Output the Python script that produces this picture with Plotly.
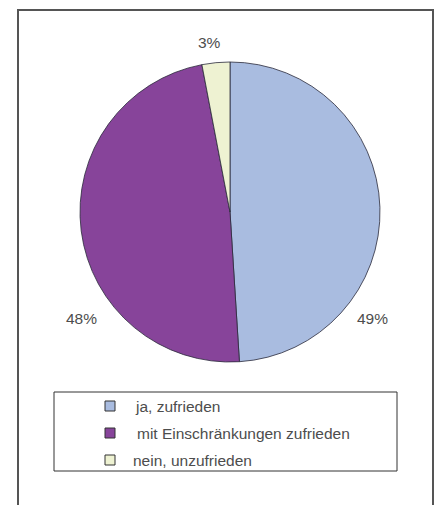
import plotly.graph_objects as go

# Zufriedenheit – Anteile in Prozent
categories = ["ja, zufrieden", "mit Einschränkungen zufrieden", "nein, unzufrieden"]
values = [49, 48, 3]
colors = ["#A9BCE0", "#87449A", "#EEF2D2"]

W, H = 439, 505
FONT = "Liberation Sans, Arial, sans-serif"
TEXT_COLOR = "#4d4d4d"


def px(x):
    return x / W


def py(y):
    return 1 - y / H


fig = go.Figure(
    go.Pie(
        labels=categories,
        values=values,
        marker=dict(colors=colors, line=dict(color="#2a2a3a", width=0.8)),
        sort=False,
        direction="clockwise",
        rotation=0,
        textinfo="none",
        hoverinfo="label+percent",
        showlegend=False,
        domain=dict(x=[px(80), px(380)], y=[py(362), py(62)]),
    )
)

total = sum(values)
pct = [f"{round(v / total * 100)}%" for v in values]

# percentage labels placed around the pie
label_pos = [(372, 318), (81, 318), (209, 43)]
annotations = []
for text, (lx, ly) in zip(pct, label_pos):
    annotations.append(dict(
        x=px(lx), y=py(ly), xref="paper", yref="paper",
        text=text, showarrow=False,
        font=dict(family=FONT, size=15.5, color=TEXT_COLOR),
        xanchor="center", yanchor="middle",
    ))

shapes = [
    # outer frame
    dict(type="rect", xref="paper", yref="paper",
         x0=px(18), x1=px(433), y0=py(520), y1=py(10),
         line=dict(color="#555555", width=2), fillcolor="rgba(0,0,0,0)"),
    # legend box
    dict(type="rect", xref="paper", yref="paper",
         x0=px(54), x1=px(397), y0=py(471), y1=py(392),
         line=dict(color="#333333", width=1), fillcolor="rgba(0,0,0,0)"),
]

# legend entries
row_y = [406, 433, 460]
text_x = [133, 135, 131]
for cat, col, ry, tx in zip(categories, colors, row_y, text_x):
    shapes.append(dict(
        type="rect", xref="paper", yref="paper",
        x0=px(105), x1=px(115), y0=py(ry + 5), y1=py(ry - 5),
        line=dict(color="#333333", width=1), fillcolor=col,
    ))
    annotations.append(dict(
        x=px(tx), y=py(ry), xref="paper", yref="paper",
        text=cat, showarrow=False,
        font=dict(family=FONT, size=15.5, color=TEXT_COLOR),
        xanchor="left", yanchor="middle",
    ))

fig.update_layout(
    width=W, height=H,
    margin=dict(l=0, r=0, t=0, b=0),
    paper_bgcolor="white",
    plot_bgcolor="white",
    shapes=shapes,
    annotations=annotations,
)

fig.write_html("out.html")
